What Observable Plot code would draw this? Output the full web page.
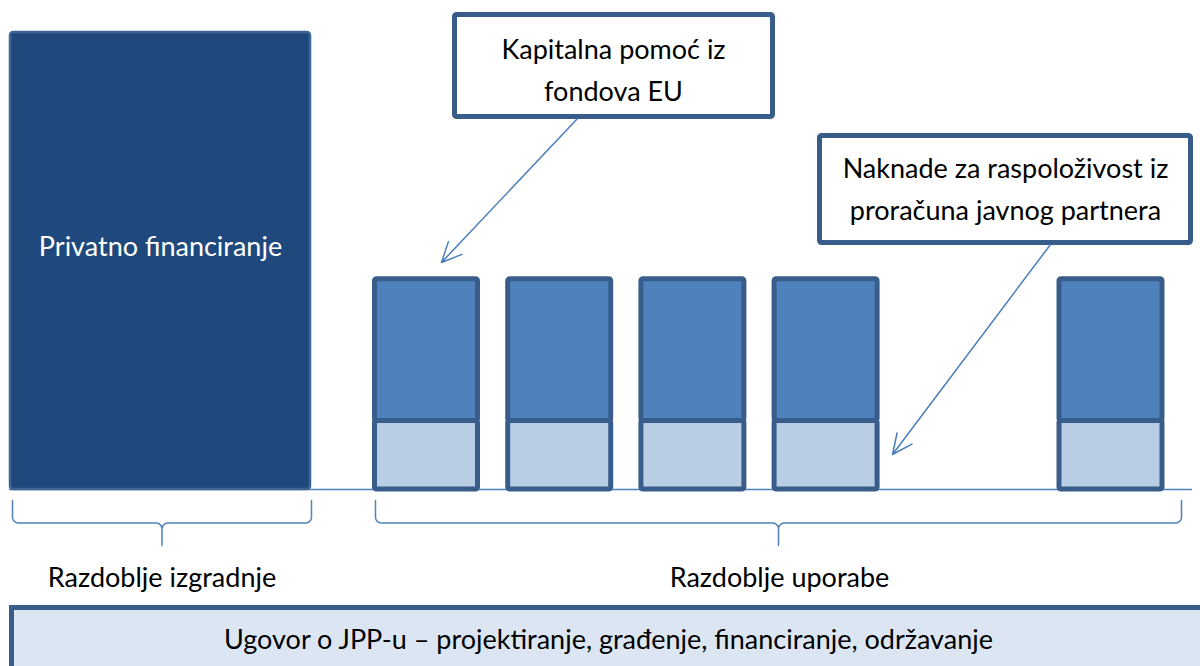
<!DOCTYPE html>
<html><head><meta charset="utf-8">
<script src="https://cdn.jsdelivr.net/npm/d3@7"></script>
<script src="https://cdn.jsdelivr.net/npm/@observablehq/plot@0.6"></script>
<style>body{margin:0;background:#fff;} #chart svg{display:block;}</style>
</head><body><div id="chart"></div>
<script>
// ---------- DATA ----------
const phases = ["Razdoblje izgradnje", "Razdoblje uporabe"];
const constructionLabel = "Privatno financiranje";
const constructionValue = 100;
const periods = ["1", "2", "3", "4", "n"];
const euCapital = [31, 31, 31, 31, 31];
const availabilityFee = [15, 15, 15, 15, 15];
const calloutEU = "Kapitalna pomoć iz\nfondova EU";
const calloutFee = "Naknade za raspoloživost iz\nproračuna javnog partnera";
const contractLabel = "Ugovor o JPP-u – projektiranje, građenje, financiranje, održavanje";

// ---------- LAYOUT ----------
const W = 1200, H = 666, BASE = 489, PX = 4.57;
const py = p => (BASE - p) / PX;           // pixel row -> value units
const FONT = "Lato, 'Open Sans', sans-serif";
const FS = 27;
const slotX = i => i < 4 ? 426 + i * 133.2 : 1110.5;
const barHalf = 51.5;

const bigBar = [{x1: 10, x2: 310, y1: 0, y2: constructionValue, label: constructionLabel}];
const lower = periods.map((p, i) => ({x1: slotX(i) - barHalf, x2: slotX(i) + barHalf, y1: 0, y2: availabilityFee[i]}));
const upper = periods.map((p, i) => ({x1: slotX(i) - barHalf, x2: slotX(i) + barHalf, y1: availabilityFee[i], y2: availabilityFee[i] + euCapital[i]}));

function brace(x0, x1, xc, key) {
  const top = 500, mid = 522.5, tip = 545, r = 6, pts = [];
  const arc = (cx, cy, a0, a1) => { for (let k = 0; k <= 8; k++) { const a = a0 + (a1 - a0) * k / 8; pts.push({x: cx + r * Math.cos(a), y: py(cy + r * Math.sin(a)), key}); } };
  pts.push({x: x0, y: py(top), key});
  arc(x0 + r, mid - r, Math.PI, Math.PI / 2);
  arc(xc - r, mid + r, -Math.PI / 2, 0);
  pts.push({x: xc, y: py(tip), key});
  arc(xc + r, mid + r, Math.PI, 3 * Math.PI / 2);
  arc(x1 - r, mid - r, Math.PI / 2, 0);
  pts.push({x: x1, y: py(top), key});
  return pts;
}
const braces = [...brace(12, 311, 161.5, phases[0]), ...brace(375, 1181, 778, phases[1])];
const phaseLabels = [{x: 161.5, y: py(578), t: phases[0]}, {x: 779, y: py(578), t: phases[1]}];

const boxes = [
  {x1: 454.5, x2: 772.5, y1: py(116.5), y2: py(14.5)},
  {x1: 819.5, x2: 1190.5, y1: py(242.5), y2: py(135.5)}
];
const calloutTexts = [
  {x: 613, y: py(66), t: calloutEU},
  {x: 1005, y: py(185), t: calloutFee}
];
const arrows = [
  {x1: 577, y1: py(118), x2: 441, y2: py(262)},
  {x1: 1050, y1: py(244), x2: 892, y2: py(454)}
];
const contractBox = [{x1: 11.5, x2: 1215, y1: py(690), y2: py(607.5)}];

const chart = Plot.plot({
  width: W, height: H,
  marginTop: 0, marginRight: 0, marginBottom: 0, marginLeft: 0,
  style: {background: "#fff", fontFamily: FONT},
  x: {type: "linear", domain: [0, W], range: [0, W], axis: null},
  y: {type: "linear", domain: [py(H), py(0)], range: [H, 0], axis: null},
  marks: [
    Plot.ruleY([0], {x1: 9, x2: 1192, stroke: "#4F81BD", strokeWidth: 1.5}),
    Plot.rect(bigBar, {x1: "x1", x2: "x2", y1: "y1", y2: "y2", fill: "#1F497D", stroke: "#3E6493", strokeWidth: 2.5, rx: 3}),
    Plot.text(bigBar, {x: d => (d.x1 + d.x2) / 2, y: py(247), text: "label", fill: "#fff", fontSize: FS, fontFamily: FONT}),
    Plot.rect(lower, {x1: "x1", x2: "x2", y1: "y1", y2: "y2", fill: "#B9CDE5", stroke: "#385D8A", strokeWidth: 5, rx: 2}),
    Plot.rect(upper, {x1: "x1", x2: "x2", y1: "y1", y2: "y2", fill: "#4F81BD", stroke: "#385D8A", strokeWidth: 5, rx: 2}),
    Plot.line(braces, {x: "x", y: "y", z: "key", stroke: "#4F81BD", strokeWidth: 1.5, curve: "linear"}),
    Plot.text(phaseLabels, {x: "x", y: "y", text: "t", fill: "#000", fontSize: FS, fontFamily: FONT}),
    Plot.rect(boxes, {x1: "x1", x2: "x2", y1: "y1", y2: "y2", fill: "#fff", stroke: "#385D8A", strokeWidth: 5, rx: 2}),
    Plot.text(calloutTexts, {x: "x", y: "y", text: "t", fill: "#000", fontSize: FS, lineHeight: 1.556, fontFamily: FONT}),
    Plot.arrow(arrows, {x1: "x1", y1: "y1", x2: "x2", y2: "y2", stroke: "#4A7EBB", strokeWidth: 1.5, headLength: 22, headAngle: 50}),
    Plot.rect(contractBox, {x1: "x1", x2: "x2", y1: "y1", y2: "y2", fill: "#DCE6F2", stroke: "#385D8A", strokeWidth: 5}),
    Plot.text([contractLabel], {x: 608, y: py(640), text: d => d, fill: "#000", fontSize: FS, fontFamily: FONT})
  ]
});
document.getElementById("chart").appendChild(chart);
</script>
</body></html>
